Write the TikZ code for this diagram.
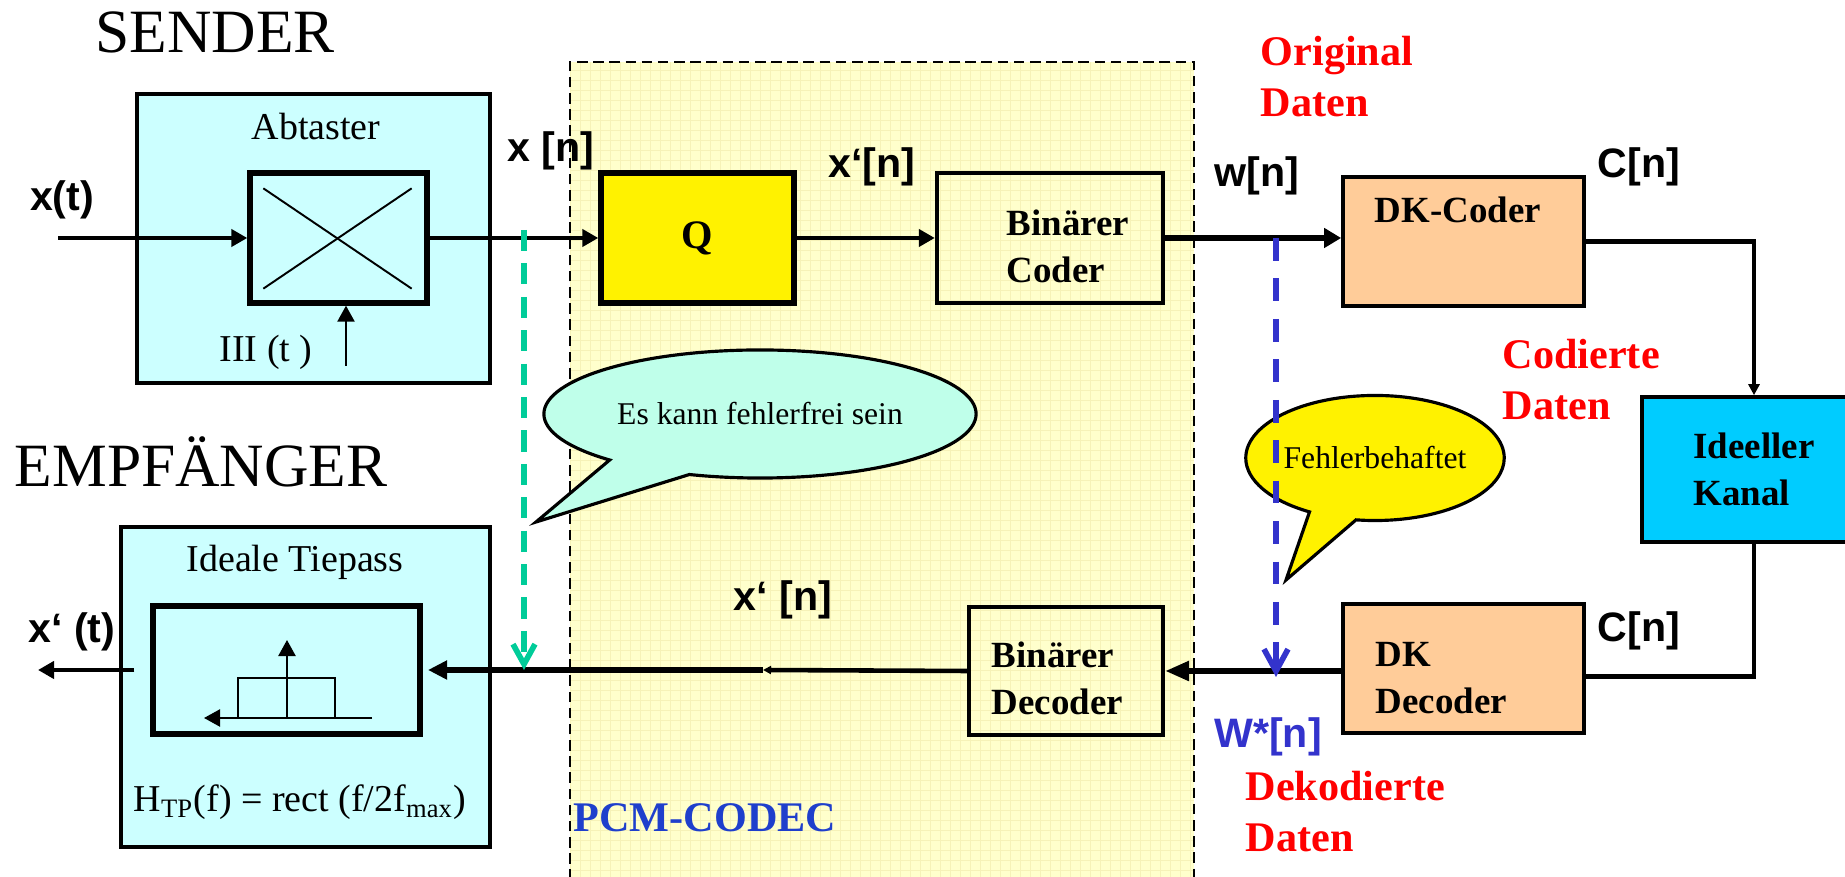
\documentclass[tikz,border=0pt]{standalone}
\usepackage{fontspec}
\setmainfont{Liberation Serif}
\setsansfont{Liberation Sans}
\usetikzlibrary{arrows.meta,positioning,calc,shapes.callouts}

\definecolor{abtcyan}{HTML}{CCFFFF}
\definecolor{pcmyellow}{HTML}{FFFFCC}
\definecolor{pcmgrid}{HTML}{F6F2B8}
\definecolor{dkorange}{HTML}{FFCC99}
\definecolor{kanalblue}{HTML}{00CCFF}
\definecolor{bubblegreen}{HTML}{BFFFEA}
\definecolor{hintgreen}{HTML}{00CC99}
\definecolor{hintblue}{HTML}{3333CC}
\definecolor{codecblue}{HTML}{1F3FCC}

\begin{document}
\begin{tikzpicture}[x=0.01cm, y=-0.01cm, >={Triangle[length=0.16cm,width=0.17cm]}]
  \tikzstyle{blk}=[draw, line width=1pt, inner sep=0pt]
  \tikzstyle{thickblk}=[draw, line width=1.5pt, inner sep=0pt]
  \tikzstyle{sig}=[inner sep=0pt, font=\fontsize{11.7}{14}\sffamily\bfseries]
  \tikzstyle{blktext}=[inner sep=0pt, align=left, font=\fontsize{10.5}{13.4}\selectfont\bfseries]
  \tikzstyle{datatext}=[inner sep=0pt, align=left, text=red, font=\fontsize{12}{14.5}\selectfont\bfseries]
  \tikzstyle{normaltext}=[inner sep=0pt, font=\fontsize{10.8}{13}\selectfont]
  \tikzstyle{headline}=[inner sep=0pt, font=\fontsize{17.5}{20}\selectfont]
  \tikzstyle{wire}=[line width=1.3pt]
  \tikzstyle{bubble}=[draw, line width=0.9pt, ellipse callout, inner sep=0pt, font=\fontsize{9}{11}\selectfont]
  \useasboundingbox (0,0) rectangle (1845,877);

  % PCM-Codec Bereich
  \fill[pcmyellow] (570,62) rectangle (1194,880);
  \draw[pcmgrid, line width=0.2pt, step=0.1cm] (570,877) grid (1194,62);
  \draw[line width=0.8pt, dash pattern=on 3pt off 1.6pt] (570,880) -- (570,62) -- (1194,62) -- (1194,880);

  % Sender
  \node[headline, anchor=base west] (sender) at (95,53) {SENDER};
  \node[blk, fill=abtcyan, minimum width=3.53cm, minimum height=2.89cm] (abt) at (313.5,238.5) {};
  \node[normaltext, anchor=base] (abtname) at (316,140) {Abtaster};
  \node[thickblk, fill=abtcyan, minimum width=1.77cm, minimum height=1.3cm] (mult) at (338.5,238) {};
  \draw[line width=0.55pt] ($(mult.north west)+(16,18)$) -- ($(mult.south east)+(-18,-17)$);
  \draw[line width=0.55pt] ($(mult.south west)+(16,-17)$) -- ($(mult.north east)+(-18,18)$);
  \node[normaltext, anchor=base] (clktext) at (266,362) {III (t )};
  \coordinate (clk) at (346,366);
  \draw[->, line width=0.65pt] (clk) -- (clk |- mult.south);
  \node[sig] (xt) at (62,200) {x(t)};
  \coordinate (xin) at (58,238);
  \draw[wire, ->] (xin) -- (mult.west);

  \node[thickblk, fill=yellow, minimum width=1.93cm, minimum height=1.3cm, font=\fontsize{11.5}{13}\selectfont\bfseries] (q) at (697.5,238) {Q};
  \draw[wire, ->] (mult.east) -- (q.west);
  \node[sig] (xn) at (551,151) {x [n]};
  \node[blk, line width=1.2pt, minimum width=2.26cm, minimum height=1.3cm] (bcod) at (1050,238) {};
  \node[blktext, anchor=west] (bcodtext) at (1006,246) {Binärer\\Coder};
  \draw[wire, ->] (q.east) -- (bcod.west);
  \node[sig] (xqn) at (872,167) {x‘[n]};

  \node[blk, fill=dkorange, minimum width=2.41cm, minimum height=1.29cm] (dkc) at (1463.5,241.5) {};
  \node[blktext, anchor=base] (dkctext) at (1458,223) {DK-Coder};
  \draw[line width=1.7pt, -{Triangle[length=0.17cm,width=0.19cm]}] (bcod.east) -- (bcod.east -| dkc.west);
  \node[sig] (wn) at (1257,176) {w[n]};
  \node[sig] (cn) at (1639,167) {C[n]};
  \node[blk, blktext, fill=kanalblue, minimum width=2.24cm, minimum height=1.45cm] (kanal) at (1754,469.5) {Ideeller\\Kanal};
  \draw[wire, -{Triangle[length=0.11cm,width=0.11cm]}] (dkc.east) -| (kanal.north);
  \node[datatext, anchor=west] (orig) at (1260,77) {Original\\Daten};
  \node[datatext, anchor=west] (codiert) at (1502,380) {Codierte\\Daten};

  % Empfaenger
  \node[blk, fill=dkorange, minimum width=2.41cm, minimum height=1.29cm] (dkd) at (1463.5,668.5) {};
  \node[blktext, anchor=west] (dkdtext) at (1375,678) {DK\\Decoder};
  \draw[wire] (kanal.south) |- ($(dkd.east)+(0,8)$);
  \node[sig] (cn2) at (1639,631) {C[n]};
  \node[blk, line width=1.2pt, minimum width=1.94cm, minimum height=1.28cm] (bdec) at (1066,671) {};
  \node[blktext, anchor=west] (bdectext) at (991,678) {Binärer\\Decoder};
  \draw[line width=1.6pt, -{Triangle[length=0.24cm,width=0.19cm]}] (dkd.west |- bdec.east) -- (bdec.east);
  \node[sig, text=hintblue] (wstar) at (1268,737) {W*[n]};
  \node[datatext, anchor=west] (dekod) at (1245,812) {Dekodierte\\Daten};
  \coordinate (xmid) at (763,670);
  \draw[wire, -{Triangle[length=0.08cm,width=0.08cm]}] (bdec.west) -- (xmid);
  \node[sig] (xqn2) at (783,600) {x‘ [n]};

  \node[headline, anchor=base west] (empf) at (14,487) {EMPFÄNGER};
  \node[blk, fill=abtcyan, minimum width=3.69cm, minimum height=3.2cm] (lp) at (305.5,687) {};
  \node[normaltext, anchor=base] (lpname) at (295,572) {Ideale Tiepass};
  \node[thickblk, minimum width=2.67cm, minimum height=1.28cm] (lpin) at (286.5,670) {};
  \draw[line width=1.7pt, shorten >=1.5pt, -{Triangle[length=0.19cm,width=0.18cm]}] (xmid) -- (lpin.east);
  \draw[line width=0.65pt] (238,718) rectangle (335,678);
  \draw[line width=0.65pt, ->] (287,718) -- (287,640);
  \draw[line width=0.65pt, ->] (372,718) -- (204,718);
  \coordinate (xout) at (38,670);
  \draw[wire, ->] ($(lpin.west)+(-16,0)$) -- (xout);
  \node[sig] (xt2) at (72,632) {x‘ (t)};
  \node[normaltext, anchor=base] (formula) at (300,812) {H\textsubscript{TP}(f) = rect (f/2f\textsubscript{max})};
  \node[anchor=west, inner sep=0pt, text=codecblue, font=\fontsize{12}{14}\selectfont\bfseries] (pcmname) at (573,818) {PCM-CODEC};

  % Hinweise
  \node[bubble, fill=bubblegreen, minimum width=4.32cm, minimum height=1.28cm, callout absolute pointer={(536,522)}, callout pointer arc=25] (fehlerfrei) at (760,414) {Es kann fehlerfrei sein};
  \coordinate (gtop) at (524,230);
  \draw[hintgreen, line width=1.6pt, dash pattern=on 6pt off 3.5pt, -{Straight Barb[length=0.2cm,width=0.22cm]}] (gtop) -- (gtop |- lpin.east);
  \node[bubble, fill=yellow, minimum width=2.51cm, minimum height=1.25cm, callout absolute pointer={(1286,580)}, callout pointer arc=22] (fehler) at (1375,458) {Fehlerbehaftet};
  \coordinate (btop) at (1276,238);
  \draw[hintblue, line width=1.6pt, dash pattern=on 6.5pt off 5pt, -{Straight Barb[length=0.22cm,width=0.24cm]}] (btop) -- ($(btop |- bdec.east)+(0,6)$);
\end{tikzpicture}
\end{document}
